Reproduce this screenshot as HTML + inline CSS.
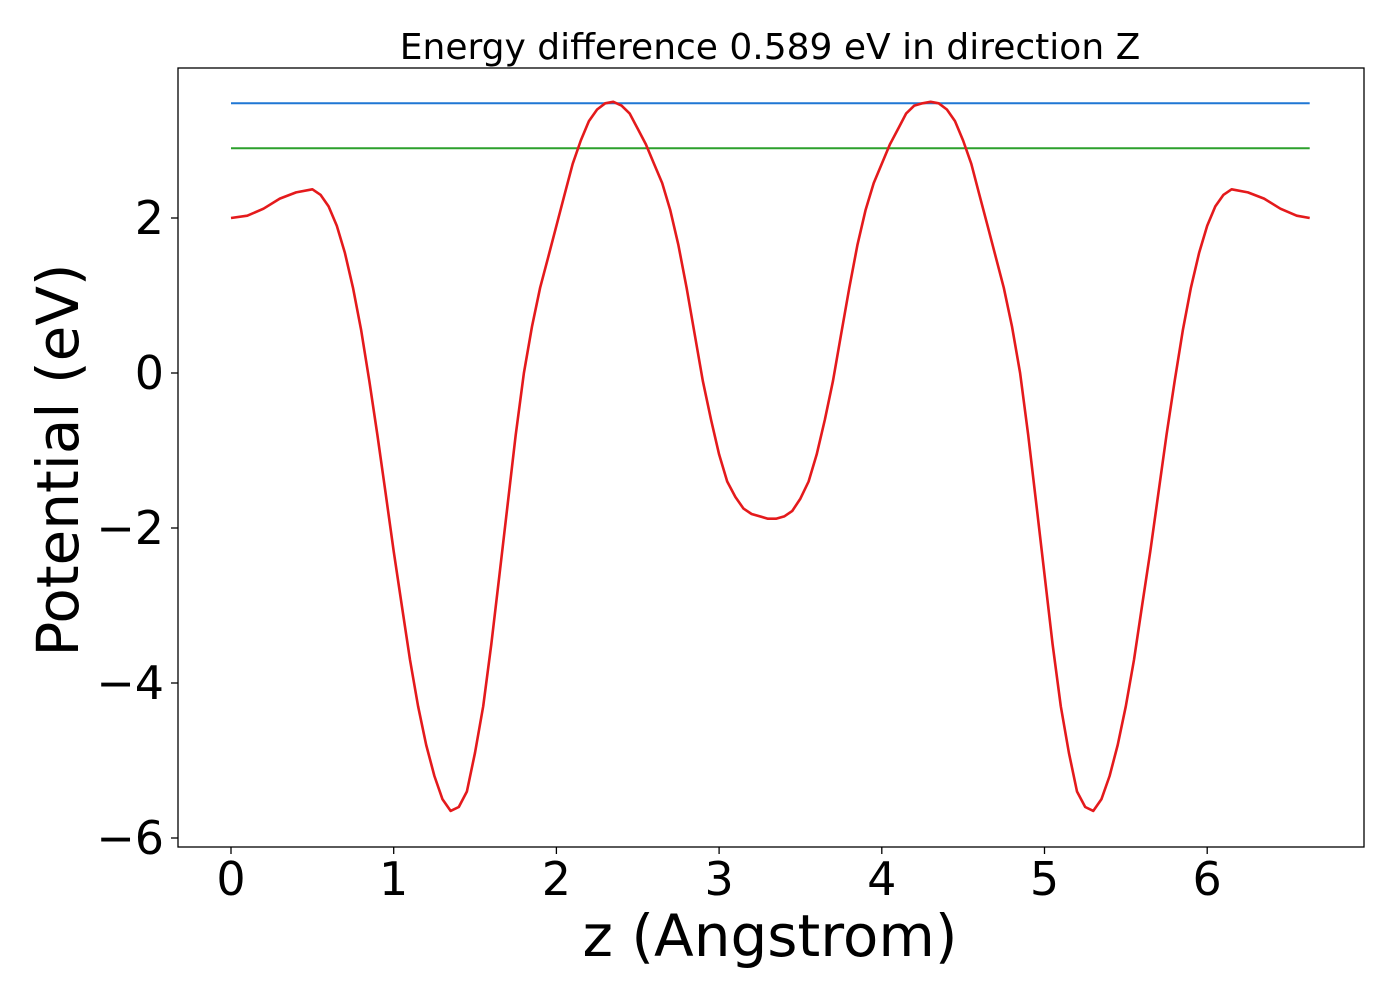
<!DOCTYPE html>
<html><head><meta charset="utf-8"><style>
body{margin:0;background:#fff;}
svg text{font-family:"DejaVu Sans","Liberation Sans",sans-serif;}
</style></head><body>
<svg id="chart" width="1400" height="1000" xmlns="http://www.w3.org/2000/svg">
<rect width="1400" height="1000" fill="#fff"/>
<text x="770" y="59" font-size="36" text-anchor="middle">Energy difference 0.589 eV in direction Z</text>
<g id="xticks"></g><g id="yticks"></g><g id="series"></g>
<rect x="178" y="68" width="1186" height="779" fill="none" stroke="#000" stroke-width="1.3"/>
<text x="770" y="956" font-size="58" text-anchor="middle">z (Angstrom)</text>
<text transform="translate(78,460) rotate(-90)" font-size="58" text-anchor="middle">Potential (eV)</text>
</svg>
<script>
const xTicks=[0,1,2,3,4,5,6];
const yTicks=[2,0,-2,-4,-6];
const zVals=[0,0.1,0.2,0.3,0.4,0.5,0.55,0.6,0.65,0.7,0.75,0.8,0.85,0.9,0.95,1.0,1.05,1.1,1.15,1.2,1.25,1.3,1.35,1.4,1.45,1.5,1.55,1.6,1.65,1.7,1.75,1.8,1.85,1.9,1.95,2.0,2.05,2.1,2.15,2.2,2.25,2.3,2.35,2.4,2.45,2.5,2.55,2.6,2.65,2.7,2.75,2.8,2.85,2.9,2.95,3.0,3.05,3.1,3.15,3.2,3.3,3.35,3.4,3.45,3.5,3.55,3.6,3.65,3.7,3.75,3.8,3.85,3.9,3.95,4.0,4.05,4.1,4.15,4.2,4.25,4.3,4.35,4.4,4.45,4.5,4.55,4.6,4.65,4.7,4.75,4.8,4.85,4.9,4.95,5.0,5.05,5.1,5.15,5.2,5.25,5.3,5.35,5.4,5.45,5.5,5.55,5.6,5.65,5.7,5.75,5.8,5.85,5.9,5.95,6.0,6.05,6.1,6.15,6.25,6.35,6.45,6.55,6.63];
const potential=[2.0,2.03,2.12,2.25,2.33,2.37,2.3,2.15,1.9,1.55,1.1,0.55,-0.1,-0.8,-1.55,-2.3,-3.0,-3.7,-4.3,-4.8,-5.2,-5.5,-5.65,-5.6,-5.4,-4.9,-4.3,-3.5,-2.6,-1.7,-0.8,0.0,0.6,1.1,1.5,1.9,2.3,2.7,3.0,3.25,3.4,3.48,3.5,3.45,3.35,3.15,2.95,2.7,2.45,2.1,1.65,1.1,0.5,-0.1,-0.6,-1.05,-1.4,-1.6,-1.75,-1.82,-1.88,-1.88,-1.85,-1.78,-1.62,-1.4,-1.05,-0.6,-0.1,0.5,1.1,1.65,2.1,2.45,2.7,2.95,3.15,3.35,3.45,3.48,3.5,3.48,3.4,3.25,3.0,2.7,2.3,1.9,1.5,1.1,0.6,0.0,-0.8,-1.7,-2.6,-3.5,-4.3,-4.9,-5.4,-5.6,-5.65,-5.5,-5.2,-4.8,-4.3,-3.7,-3.0,-2.3,-1.55,-0.8,-0.1,0.55,1.1,1.55,1.9,2.15,2.3,2.37,2.33,2.25,2.12,2.03,2.0];
const maxLevel=[3.48];
const refLevel=[2.9];
const xRange=[0,6.63];
const NS='http://www.w3.org/2000/svg';
function X(v){return 231+v*162.7;}
function Y(v){return 373-v*77.5;}
function mk(t,a,p){const e=document.createElementNS(NS,t);for(const k in a)e.setAttribute(k,a[k]);document.getElementById(p).appendChild(e);return e;}
xTicks.forEach(v=>{
 const l=mk('line',{x1:X(v),x2:X(v),y1:847,y2:854,stroke:'#000','stroke-width':1.3},'xticks');
 
 
 const t=mk('text',{x:X(v),y:895,'font-size':46,'text-anchor':'middle'},'xticks');
 t.textContent=String(v);
 
 
});
yTicks.forEach(v=>{
 const l=mk('line',{x1:171,x2:178,y1:Y(v),y2:Y(v),stroke:'#000','stroke-width':1.3},'yticks');
 
 
 const t=mk('text',{x:164,y:Y(v)+16,'font-size':46,'text-anchor':'end'},'yticks');
 t.textContent=v<0?'\u2212'+Math.abs(v):String(v);
 
 
});
const b=mk('line',{x1:X(xRange[0]),x2:X(xRange[1]),y1:Y(maxLevel[0]),y2:Y(maxLevel[0]),stroke:'#1f77d4','stroke-width':2},'series');


const g=mk('line',{x1:X(xRange[0]),x2:X(xRange[1]),y1:Y(refLevel[0]),y2:Y(refLevel[0]),stroke:'#2ca02c','stroke-width':2},'series');


const d=zVals.map((z,i)=>(i?'L':'M')+X(z).toFixed(1)+','+Y(potential[i]).toFixed(1)).join(' ');
const p=mk('path',{d:d,fill:'none',stroke:'#e41a1c','stroke-width':2.6,'stroke-linejoin':'round'},'series');


</script>
</body></html>
